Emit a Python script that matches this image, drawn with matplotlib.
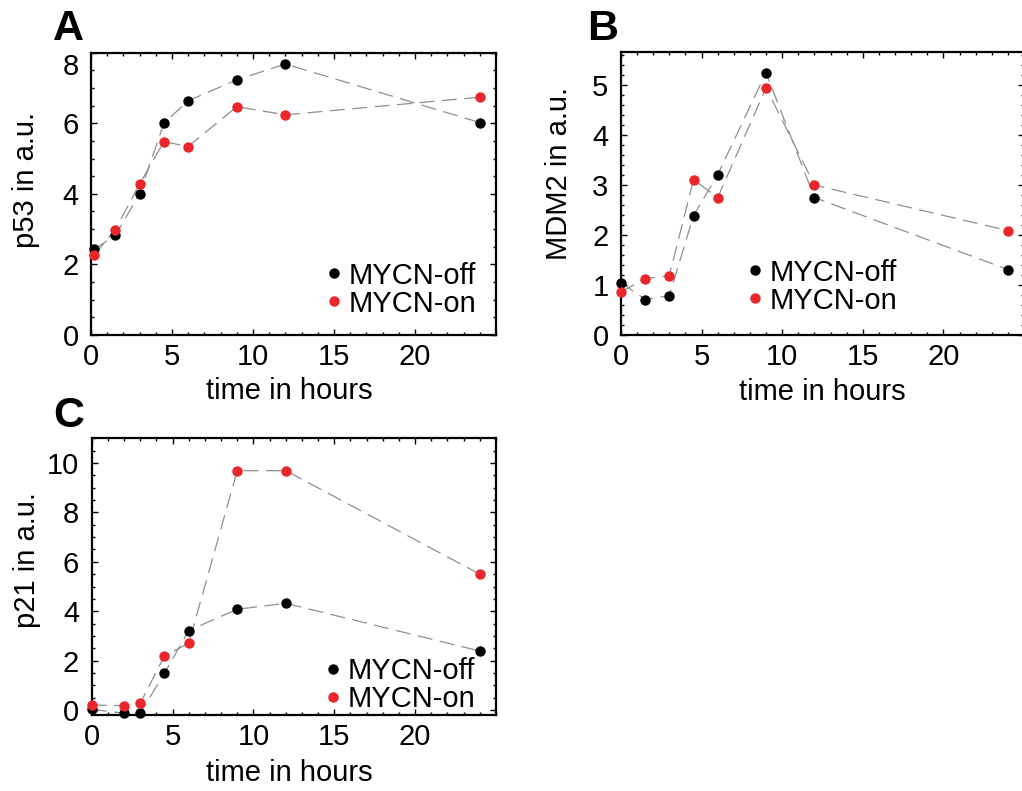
import matplotlib
matplotlib.use('Agg')
import matplotlib.pyplot as plt
from matplotlib.ticker import MultipleLocator
from matplotlib.lines import Line2D

plt.rcParams['font.family'] = ['Liberation Sans', 'DejaVu Sans']

# time points (hours) per panel
t_p53 = [0.2, 1.5, 3, 4.5, 6, 9, 12, 24]
t_mdm2 = [0, 1.5, 3, 4.5, 6, 9, 12, 24]
t_p21 = [0, 2, 3, 4.5, 6, 9, 12, 24]

# a.u.
p53_off = [2.43, 2.82, 4.0, 6.0, 6.64, 7.23, 7.68, 6.02]
p53_on = [2.27, 2.98, 4.28, 5.48, 5.34, 6.47, 6.24, 6.74]
mdm2_off = [1.05, 0.71, 0.79, 2.39, 3.21, 5.25, 2.75, 1.31]
mdm2_on = [0.86, 1.13, 1.19, 3.11, 2.75, 4.95, 3.0, 2.09]
p21_off = [0.03, -0.13, -0.13, 1.49, 3.22, 4.08, 4.32, 2.39]
p21_on = [0.2, 0.18, 0.27, 2.19, 2.7, 9.69, 9.69, 5.5]

series_labels = ['MYCN-off', 'MYCN-on']
RED = '#e8262b'
GREY = '#8f8f8f'
FS = 21

W, H = 1022, 791
fig = plt.figure(figsize=(W / 100, H / 100), dpi=100)


def rect(l, t, r, b):
    return [l / W, 1 - b / H, (r - l) / W, (b - t) / H]


def panel(box, t, off, on, ylim, yticks, yminor, ylabel, ylab_xy, xlab_xy, leg_xy):
    ax = fig.add_axes(rect(*box))
    for y, c in [(off, 'black'), (on, RED)]:
        ax.plot(t, y, color=GREY, lw=0.9, ls=(0, (12, 6)), zorder=2)
        ax.plot(t, y, 'o', color=c, ms=7.5, mec='none', zorder=3, clip_on=False)
    ax.set_xlim(0, 25)
    ax.set_ylim(*ylim)
    ax.set_xticks([0, 5, 10, 15, 20])
    ax.set_yticks(yticks, [str(v) for v in yticks])
    ax.xaxis.set_minor_locator(MultipleLocator(1))
    ax.yaxis.set_minor_locator(MultipleLocator(yminor))
    ax.tick_params(which='both', direction='in', top=True, right=True,
                   labelsize=FS, width=1.0, color='black')
    ax.tick_params(which='major', length=4.5)
    ax.tick_params(axis='x', which='major', pad=6)
    ax.tick_params(axis='y', which='major', pad=9)
    ax.tick_params(which='minor', length=2.2)
    for s in ax.spines.values():
        s.set_linewidth(1.6)
    ax.set_xlabel('time in hours', fontsize=FS)
    ax.set_ylabel(ylabel, fontsize=FS)
    ax.xaxis.label.set_va('center')
    ax.yaxis.label.set_va('center')
    ax.xaxis.set_label_coords(*xlab_xy)
    ax.yaxis.set_label_coords(*ylab_xy)
    handles = [Line2D([], [], ls='none', marker='o', color=c, ms=7.5, mec='none')
               for c in ['black', RED]]
    ax.legend(handles, series_labels, loc='center left', bbox_to_anchor=leg_xy,
              frameon=False, fontsize=FS, handlelength=0.6, handletextpad=0.2,
              labelspacing=0.0, borderpad=0, borderaxespad=0)
    return ax


axA = panel((91, 52.7, 496, 335), t_p53, p53_off, p53_on, (0, 8), [0, 2, 4, 6, 8], 0.5,
            'p53 in a.u.', (-0.16, 0.549), (0.49, -0.2), (0.579, 0.161))
# top label sits inside the frame, as in the original
axA.get_yticklabels()[-1].set_va('top')

axB = panel((621, 51.7, 1024, 335), t_mdm2, mdm2_off, mdm2_on, (0, 5.67), [0, 1, 2, 3, 4, 5], 0.2,
            'MDM2 in a.u.', (-0.155, 0.57), (0.5, -0.2), (0.31, 0.171))

axC = panel((91.7, 438.3, 496, 715), t_p21, p21_off, p21_on, (-0.2, 11), [0, 2, 4, 6, 8, 10], 0.5,
            'p21 in a.u.', (-0.16, 0.56), (0.488, -0.21), (0.575, 0.108))

for x, y, s in [(53, 40, 'A'), (587, 40, 'B'), (53, 427, 'C')]:
    fig.text(x / W, 1 - y / H, s, fontsize=31, fontweight='bold', va='baseline', ha='left')

fig.savefig('out.png', dpi=100)
